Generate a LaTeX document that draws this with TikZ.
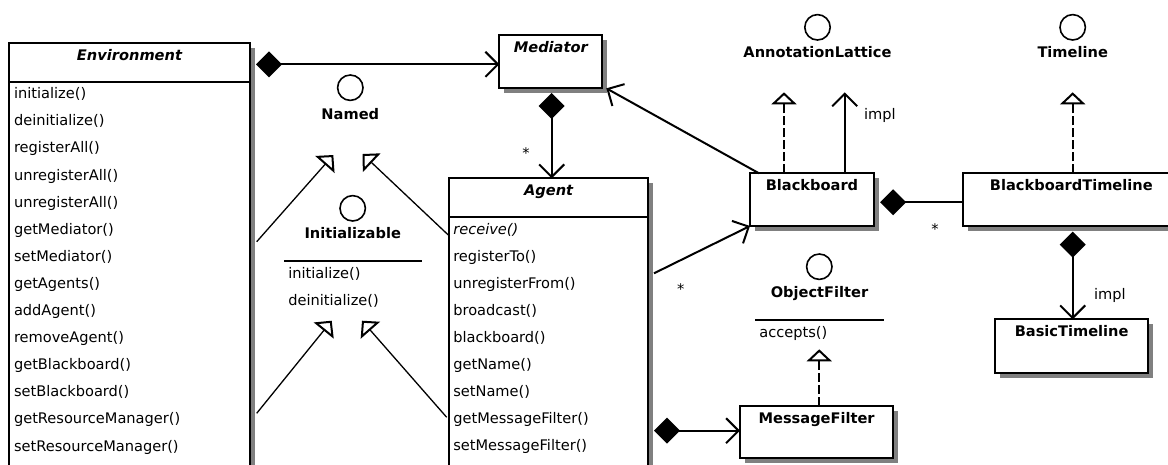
\documentclass[tikz,border=0pt]{standalone}
\usepackage{fontspec}
\setmainfont{DejaVu Sans}
\usetikzlibrary{arrows.meta,calc,shadows}
\newcommand\dfs{\fontsize{14.6}{17}\selectfont}
\begin{document}
\begin{tikzpicture}[x=1pt,y=-1pt,
  every node/.style={inner sep=0pt,outer sep=0pt,font=\dfs},
  box/.style={draw,line width=2pt,fill=white,anchor=north west,
    drop shadow={shadow xshift=5pt,shadow yshift=-5pt,fill=black!50,opacity=1}},
  ttl/.style={anchor=base,font=\dfs\bfseries},
  attl/.style={anchor=base,font=\dfs\bfseries\itshape},
  row/.style={anchor=base west},
  iface/.style={draw,circle,line width=1.6pt,minimum size=25.4pt},
  ilbl/.style={anchor=base,font=\dfs\bfseries},
  sepline/.style={line width=2pt},
  comp/.style={line width=2pt,arrows={Diamond[length=26pt,width=26pt]-Straight Barb[length=12.5pt,width=25pt]}},
  compn/.style={line width=2pt,arrows={Diamond[length=26pt,width=26pt]-}},
  assoc/.style={line width=2pt,arrows={-Straight Barb[length=12.5pt,width=25pt]}},
  real/.style={line width=2pt,dash pattern=on 9pt off 3pt,arrows={-Triangle[length=12pt,width=25pt,fill=white]}},
  thinreal/.style={line width=1.3pt,arrows={-Triangle[length=12.7pt,width=25.4pt,fill=white,line width=2pt]}},
  star/.style={anchor=base}
]
\useasboundingbox (0,0) rectangle (1168,464);
\clip (0,0) rectangle (1168,464);

% class boxes
\node[box,minimum width=241pt,minimum height=440pt] (env) at (9,42.7) {};
\node[box,minimum width=103pt,minimum height=53.3pt] (med) at (499.3,35) {};
\node[box,minimum width=199.3pt,minimum height=300pt] (agent) at (449,178.3) {};
\node[box,minimum width=124pt,minimum height=52.7pt] (bb) at (750,173.3) {};
\node[box,minimum width=216pt,minimum height=52.7pt] (bt) at (963.3,173.3) {};
\node[box,minimum width=153.3pt,minimum height=52.6pt] (mf) at (740,405.7) {};
\node[box,minimum width=153.3pt,minimum height=53.4pt] (basic) at (995,319.3) {};

\draw[sepline] ($(env.north west)+(0,39)$) -- ($(env.north east)+(0,39)$);
\draw[sepline] ($(agent.north west)+(0,39)$) -- ($(agent.north east)+(0,39)$);

% titles
\node[attl] (envt) at ($(env.north)+(0,17.3)$) {Environment};
\node[attl] (medt) at ($(med.north)+(0,17.3)$) {Mediator};
\node[attl] (agentt) at ($(agent.north)+(0,17.3)$) {Agent};
\node[ttl] (bbt) at ($(bb.north)+(0,17.3)$) {Blackboard};
\node[ttl] (btt) at ($(bt.north)+(0,17.3)$) {BlackboardTimeline};
\node[ttl] (mft) at ($(mf.north)+(0,17.3)$) {MessageFilter};
\node[ttl] (basict) at ($(basic.north)+(0,17.3)$) {BasicTimeline};

% operations
\foreach \t [count=\i from 0] in {initialize(),deinitialize(),registerAll(),unregisterAll(),unregisterAll(),getMediator(),setMediator(),getAgents(),addAgent(),removeAgent(),getBlackboard(),setBlackboard(),getResourceManager(),setResourceManager()}
  \node[row] (envop\i) at ($(env.north west)+(5,{56+27.1*\i})$) {\t};
\foreach \t [count=\i from 0] in {{\itshape receive()},registerTo(),unregisterFrom(),broadcast(),blackboard(),getName(),setName(),getMessageFilter(),setMessageFilter()}
  \node[row] (agop\i) at ($(agent.north west)+(4.3,{56+27*\i})$) {\t};

% interfaces
\node[iface] (named) at (350.3,87.7) {};
\node[ilbl] (namedl) at (350.3,119.5) {Named};
\node[iface] (init) at (352.7,208.3) {};
\node[ilbl] (initl) at (352.7,238.5) {Initializable};
\draw[sepline] (284,261) -- (421.7,261);
\node[row] (initm1) at (288.3,278.5) {initialize()};
\node[row] (initm2) at (288.3,305.5) {deinitialize()};
\node[iface] (al) at (817.5,27.3) {};
\node[ilbl] (all) at (817.5,57) {AnnotationLattice};
\node[iface] (tl) at (1072.7,27.3) {};
\node[ilbl] (tll) at (1072.7,57) {Timeline};
\node[iface] (of) at (819.3,266.7) {};
\node[ilbl] (ofl) at (819.5,297.5) {ObjectFilter};
\draw[sepline] (755,320) -- (884.3,320);
\node[row] (ofm) at (759.3,337.2) {accepts()};

\coordinate (namedtipL) at (333.3,155);
\coordinate (namedtipR) at (362.5,154);
\coordinate (inittipL) at (331.7,320.7);
\coordinate (inittipR) at (362,320.7);

% realizations to Named / Initializable
\draw[thinreal] ($(env.north east)+(6.7,199)$) -- (namedtipL);
\draw[thinreal] ($(agent.north west)+(-0.7,56.7)$) -- (namedtipR);
\draw[thinreal] ($(env.north east)+(6.7,370.6)$) -- (inittipL);
\draw[thinreal] ($(agent.north west)+(-2.3,239)$) -- (inittipR);

% compositions and associations
\draw[comp] ($(env.north east)+(6,21.6)$) coordinate (c1) -- (c1 -| med.west);
\draw[comp] ($(med.south)+(0.9,4.7)$) coordinate (c2) -- (c2 |- agent.north);
\node[star] (s1) at (526,158.3) {*};
\draw[assoc] ($(bb.north west)+(9,0)$) -- ($(med.south east)+(4,0)$);
\draw[assoc] ($(agent.north east)+(5.7,95)$) -- (bb.south west);
\node[star] (s2) at (680.7,294) {*};
\draw[real] ($(bb.north west)+(34,0)$) -- ++(0,-81);
\draw[assoc] ($(bb.north west)+(94.7,0)$) -- ++(0,-81);
\node[row] (impl1) at (864,119.5) {impl};
\draw[real] ($(bt.north west)+(109.4,0)$) -- ++(0,-81);
\draw[compn] ($(bb.east)+(6,2.6)$) coordinate (c3) -- (c3 -| bt.west);
\node[star] (s3) at (935,234) {*};
\draw[comp] ($(bt.south west)+(109.4,5.7)$) coordinate (c4) -- (c4 |- basic.north);
\node[row] (impl2) at (1094,299.5) {impl};
\draw[real] ($(mf.north)+(2.6,0)$) -- ++(0,-56.4);
\draw[comp] ($(agent.north east)+(5.7,252.4)$) coordinate (c5) -- (c5 -| mf.west);
\end{tikzpicture}
\end{document}
